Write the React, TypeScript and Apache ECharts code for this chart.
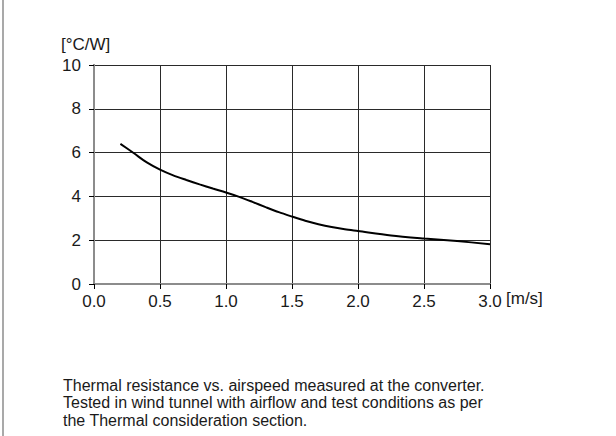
import React, { useEffect, useRef } from "react";
import * as echarts from "echarts";

const airspeed = [0.2, 0.3, 0.4, 0.5, 0.6, 0.7, 0.8, 0.9, 1.0, 1.1, 1.2, 1.3, 1.4, 1.5, 1.6, 1.7, 1.8, 1.9, 2.0, 2.25, 2.5, 2.75, 3.0];
const resistance = [6.4, 5.98, 5.55, 5.22, 4.96, 4.75, 4.55, 4.36, 4.18, 3.98, 3.75, 3.51, 3.28, 3.08, 2.89, 2.73, 2.6, 2.5, 2.42, 2.22, 2.08, 1.96, 1.82];
const yUnit = "[°C/W]";
const xUnit = "[m/s]";
const captionLines = [
  "Thermal resistance vs. airspeed measured at the converter.",
  "Tested in wind tunnel with airflow and test conditions as per",
  "the Thermal consideration section.",
];

const FONT = "'Liberation Sans', Arial, Helvetica, sans-serif";
const TXT = "#1a1a1a";

export default function App() {
  const ref = useRef<HTMLDivElement>(null);
  useEffect(() => {
    if (!ref.current) return;
    const chart = echarts.init(ref.current, null, { renderer: "svg" });
    const data = airspeed.map((v, i) => [v, resistance[i]]);
    chart.setOption({
      animation: false,
      backgroundColor: "#ffffff",
      textStyle: { fontFamily: FONT },
      grid: { left: 94, top: 65, right: 126, bottom: 152, containLabel: false },
      xAxis: [
        {
          type: "value",
          min: 0,
          max: 3,
          interval: 0.5,
          axisLine: { show: true, onZero: false, lineStyle: { color: "#000", width: 1.5 } },
          axisTick: { show: true, length: 5, lineStyle: { color: "#000", width: 1 } },
          axisLabel: {
            margin: 9,
            color: TXT,
            fontSize: 17,
            fontFamily: FONT,
            formatter: (v: number) => v.toFixed(1),
          },
          splitLine: { show: true, lineStyle: { color: "#2a2a2a", width: 1 } },
        },
        {
          type: "value",
          position: "top",
          min: 0,
          max: 3,
          interval: 0.5,
          axisLine: { show: true, lineStyle: { color: "#8c8c8c", width: 2 } },
          axisTick: { show: false },
          axisLabel: { show: false },
          splitLine: { show: false },
        },
      ],
      yAxis: [
        {
          type: "value",
          min: 0,
          max: 10,
          interval: 2,
          axisLine: { show: true, onZero: false, lineStyle: { color: "#000", width: 1.5 } },
          axisTick: { show: true, length: 5, lineStyle: { color: "#000", width: 1 } },
          axisLabel: { margin: 13, color: TXT, fontSize: 17, fontFamily: FONT },
          splitLine: { show: true, lineStyle: { color: "#2a2a2a", width: 1 } },
        },
        {
          type: "value",
          position: "right",
          min: 0,
          max: 10,
          interval: 2,
          axisLine: { show: true, lineStyle: { color: "#8c8c8c", width: 2 } },
          axisTick: { show: false },
          axisLabel: { show: false },
          splitLine: { show: false },
        },
      ],
      series: [
        {
          type: "line",
          data,
          xAxisIndex: 0,
          yAxisIndex: 0,
          smooth: 0.3,
          showSymbol: false,
          lineStyle: { color: "#000", width: 2 },
          z: 5,
        },
      ],
      graphic: [
        {
          type: "line",
          shape: { x1: 3, y1: 0, x2: 3, y2: 436 },
          style: { stroke: "#8c8c8c", lineWidth: 1.5 },
        },
        {
          type: "text",
          left: 61,
          top: 36,
          style: { text: yUnit, fill: TXT, font: `17px ${FONT}` },
        },
        {
          type: "text",
          left: 506,
          top: 290,
          style: { text: xUnit, fill: TXT, font: `17px ${FONT}` },
        },
        ...captionLines.map((t, i) => ({
          type: "text",
          left: 63,
          top: 377 + i * 17.5,
          style: { text: t, fill: TXT, font: `16px ${FONT}` },
        })),
      ],
    });
    return () => chart.dispose();
  }, []);
  return (
    <div
      ref={ref}
      style={{ position: "fixed", left: 0, top: 0, width: 616, height: 436 }}
    />
  );
}
